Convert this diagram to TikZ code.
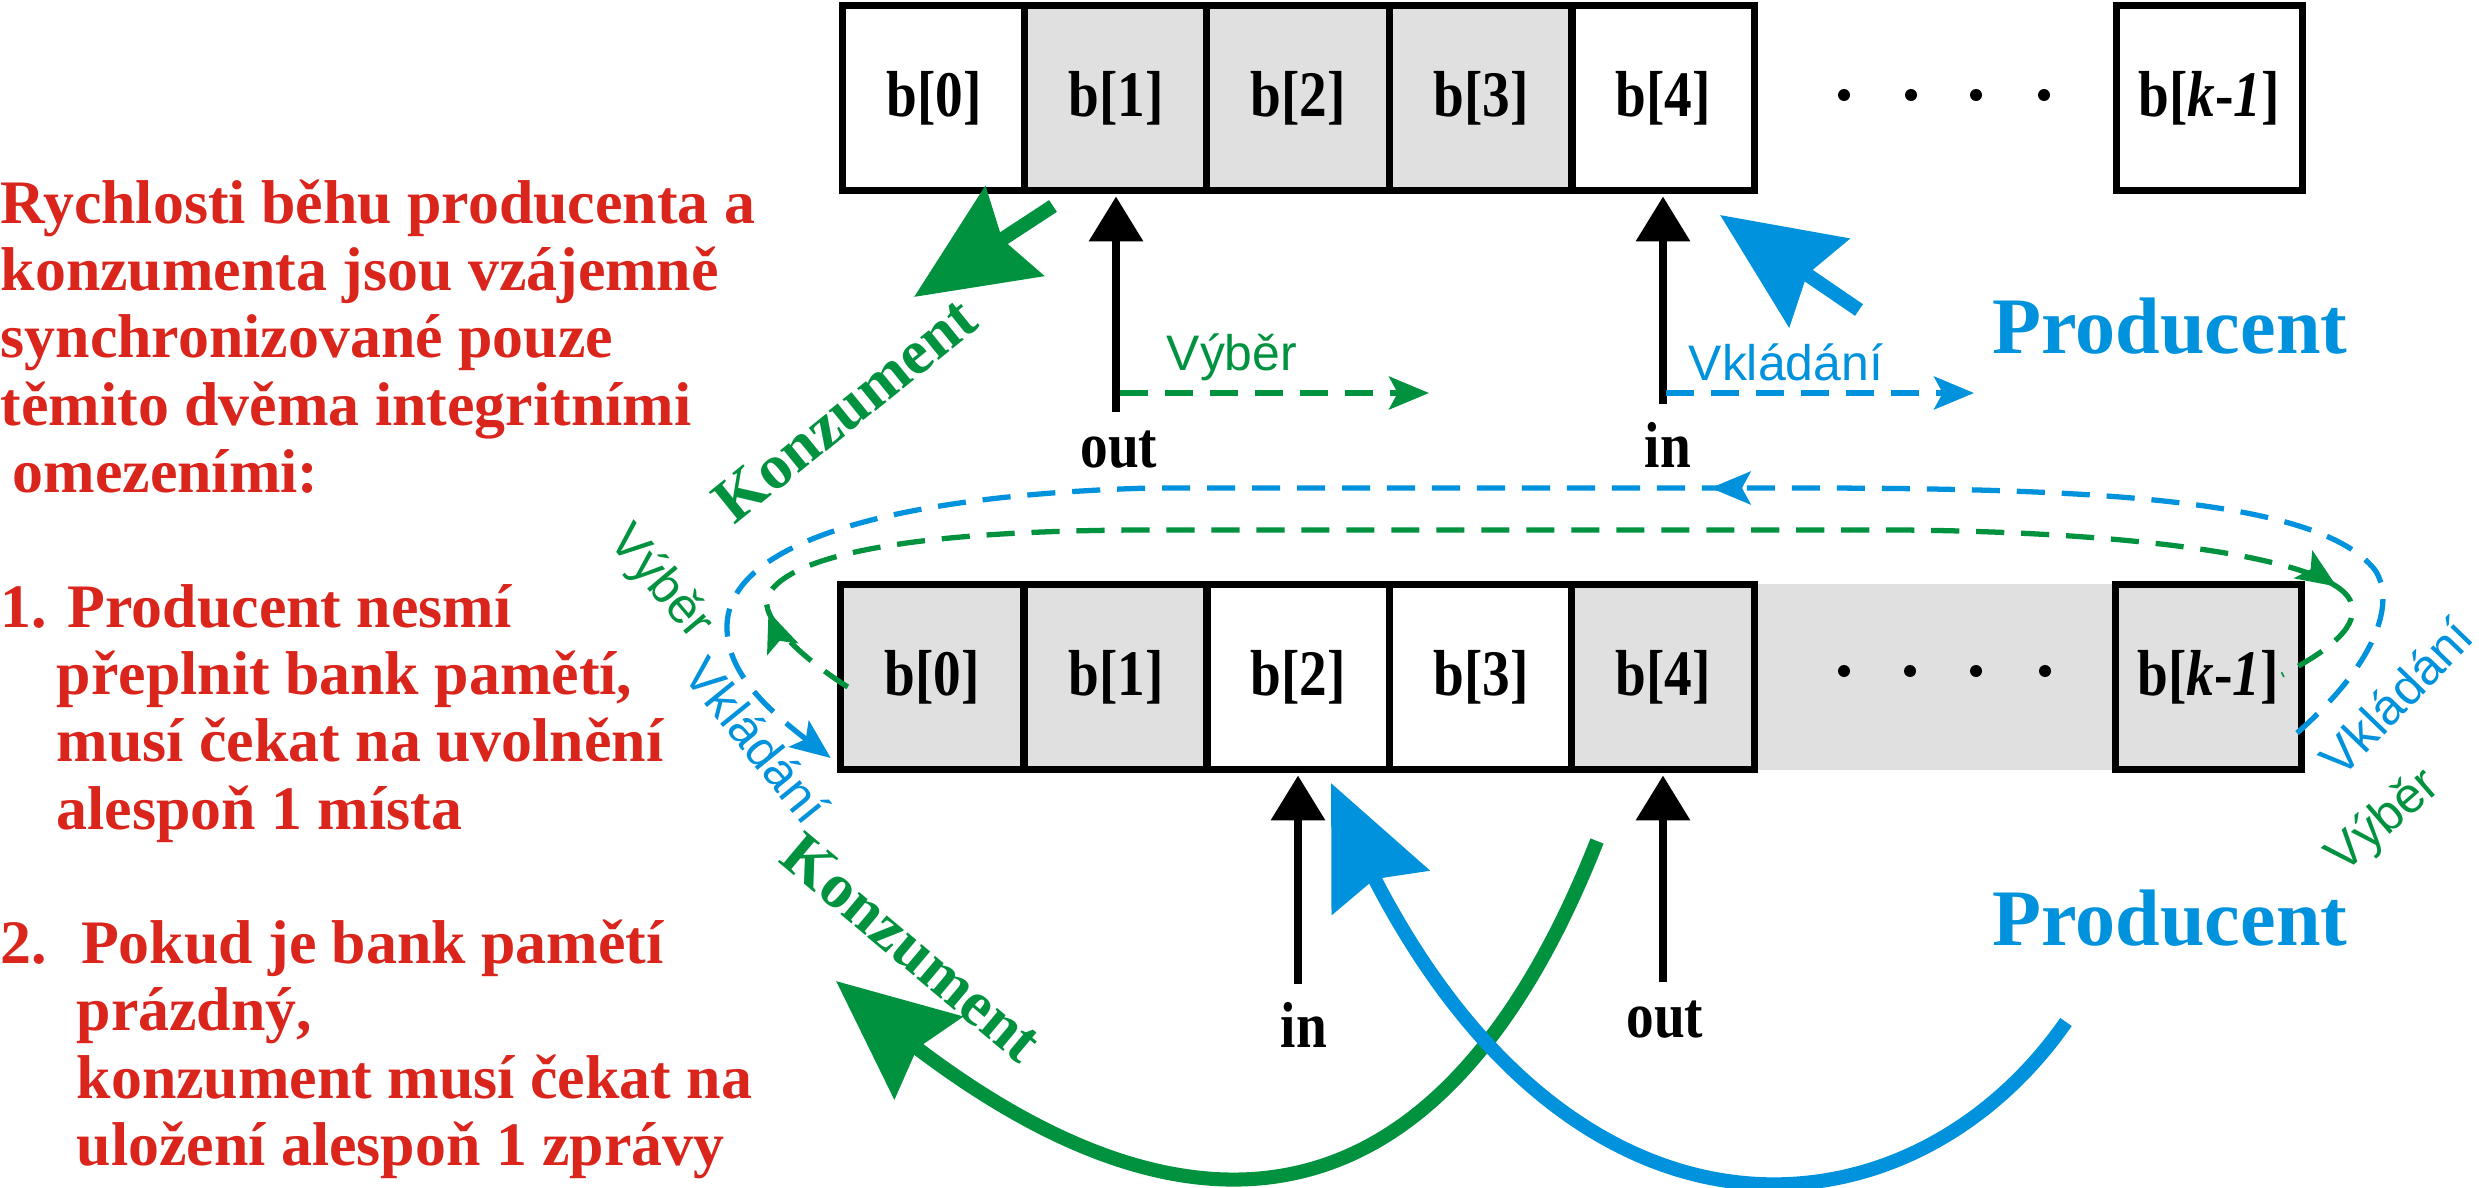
\documentclass[tikz,border=0pt]{standalone}
\usepackage{fontspec}
\setmainfont{Liberation Serif}
\newfontfamily\labelfont{Liberation Sans}
\newfontfamily\cellfont{Liberation Serif}[FakeStretch=0.85]
\usetikzlibrary{
    arrows.meta,
    bending,
    calc,
    decorations.markings
}
\definecolor{rulered}{RGB}{218,37,29}
\definecolor{konzgreen}{RGB}{0,146,63}
\definecolor{prodblue}{RGB}{0,146,221}
\tikzset{
    cell/.style={draw, line width=2pt, inner sep=0pt, outer sep=0pt,
        minimum width=18.25mm, minimum height=18.5mm,
        font=\cellfont\bfseries\fontsize{18.5}{20}\selectfont},
    filled/.style={cell, fill=black!12},
    ptr/.style={inner xsep=0pt, inner ysep=5pt,
        font=\cellfont\bfseries\fontsize{18.5}{20}\selectfont},
    ptrarrow/.style={line width=2.3pt, shorten >=0.6mm,
        -{Triangle[length=12.8pt, width=15pt]}},
    steptext/.style={font=\labelfont\fontsize{14.2}{16}\selectfont, inner sep=0pt},
    dashline/.style={line width=1.5pt, dash pattern=on 8pt off 4.8pt},
    smalltip/.style={-{Stealth[length=11.4pt, width=9.4pt, inset=2.5pt]}},
    bigarrow/.style={line width=4pt, -{Stealth[length=34pt, width=30pt, inset=4pt]}},
    role/.style={font=\bfseries\fontsize{18}{20}\selectfont, inner sep=0pt},
    rolebig/.style={font=\bfseries\fontsize{22.8}{24}\selectfont, inner sep=0pt}
}

\begin{document}
\begin{tikzpicture}[x=0.1mm, y=-0.1mm]
    \useasboundingbox (0,0) rectangle (2479,1188);

    % text on the left
    \node[anchor=north west, align=left, inner sep=0pt, text=rulered,
          font=\bfseries\fontsize{17.6}{19.15}\selectfont] (rules) at (0,179)
    {Rychlosti běhu producenta a\\
     konzumenta jsou vzájemně\\
     synchronizované pouze\\
     těmito dvěma integritními\\
     \hspace*{1.2mm}omezeními:\\[19.15pt]
     1. Producent nesmí\\
     \hspace*{5.6mm}přeplnit bank pamětí,\\
     \hspace*{5.6mm}musí čekat na uvolnění\\
     \hspace*{5.6mm}alespoň 1 místa\\[19.15pt]
     2.\hspace{3.4mm}Pokud je bank pamětí\\
     \hspace*{7.6mm}prázdný,\\
     \hspace*{7.6mm}konzument musí čekat na\\
     \hspace*{7.6mm}uložení alespoň 1 zprávy};

    % upper buffer
    \node[cell] (t0) at (934, 98) {b[0]};
    \node[filled] (t1) at (1116, 98) {b[1]};
    \node[filled] (t2) at (1298, 98) {b[2]};
    \node[filled] (t3) at (1481, 98) {b[3]};
    \node[cell] (t4) at (1663, 98) {b[4]};
    \node[cell, minimum width=18.6mm] (tk) at (2209, 98) {b[\textit{k}-\textit{1}]};
    \fill (1844,95) circle (0.6mm) (1911,95) circle (0.6mm)
          (1976,95) circle (0.6mm) (2044,95) circle (0.6mm);

    % lower buffer
    \fill[black!12] (1754,584) rectangle (2116,770);
    \node[filled] (l0) at (932, 677) {b[0]};
    \node[filled] (l1) at (1116, 677) {b[1]};
    \node[cell] (l2) at (1298, 677) {b[2]};
    \node[cell] (l3) at (1481, 677) {b[3]};
    \node[filled] (l4) at (1663, 677) {b[4]};
    \node[filled, minimum width=18.6mm] (lk) at (2208, 677) {b[\textit{k}-\textit{1}]};
    \fill (1844,671) circle (0.6mm) (1910,671) circle (0.6mm)
          (1976,671) circle (0.6mm) (2045,671) circle (0.6mm);

    % pointers
    \node[ptr, anchor=base] (outT) at (1119,467) {out};
    \node[ptr, anchor=base] (inT) at (1668,467) {in};
    \node[ptr, anchor=base] (inB) at (1304,1047) {in};
    \node[ptr, anchor=base] (outB) at (1665,1037) {out};
    \draw[ptrarrow] (t1.south |- outT.north) -- (t1.south);
    \draw[ptrarrow] (t4.south |- inT.north) -- (t4.south);
    \draw[ptrarrow] (l2.south |- inB.north) -- (l2.south);
    \draw[ptrarrow] (l4.south |- outB.north) -- (l4.south);

    % steps of the pointers
    \coordinate (vybS) at (1120,393);
    \coordinate (vybE) at (1429,393);
    \coordinate (vklS) at (1666,393);
    \coordinate (vklE) at (1974,393);
    \draw[dashline, konzgreen, smalltip] (vybS) -- (vybE);
    \draw[dashline, prodblue, smalltip] (vklS) -- (vklE);
    \node[steptext, konzgreen, anchor=base west] (vybT) at (1166,370) {Výběr};
    \node[steptext, prodblue, anchor=base west] (vklT) at (1688,380) {Vkládání};

    % wrap round
    \coordinate (vkS) at ($(lk.east)+(-4,56)$);
    \coordinate (vkE) at ($(l0.west)+(-10,81)$);
    \coordinate (vbS) at ($(l0.west)+(7,10)$);
    \coordinate (vbE) at ($(lk.east)+(-19,-2)$);
    \draw[dashline, prodblue, smalltip, postaction={decorate},
          decoration={markings, mark=at position 0.42 with
            {\arrow{Stealth[length=11.4pt, width=9.4pt, inset=2.5pt]}}}]
        (vkS) .. controls (2380,660) and (2395,600) .. (2375,570)
              .. controls (2320,500) and (2100,488) .. (1800,488)
              -- (1150,488)
              .. controls (900,495) and (727,540) .. (727,627)
              .. controls (727,680) and (780,720) .. (vkE);
    \draw[dashline, konzgreen, postaction={decorate},
          decoration={markings,
            mark=at position 0.06 with
              {\arrow{Stealth[length=11.4pt, width=9.4pt, inset=2.5pt]}},
            mark=at position 0.93 with
              {\arrow{Stealth[length=11.4pt, width=9.4pt, inset=2.5pt]}}}]
        (vbS) .. controls (790,650) and (755,610) .. (770,592)
              .. controls (800,548) and (950,530) .. (1150,530)
              -- (1900,530)
              .. controls (2150,532) and (2330,560) .. (2350,600)
              .. controls (2362,625) and (2330,650) .. (vbE);
    \node[steptext, konzgreen, rotate=-50] (vybL) at (660,583) {Výběr};
    \node[steptext, prodblue, rotate=-51] (vklL) at (757,740) {Vkládání};
    \node[steptext, prodblue, rotate=46] (vklR) at (2396,697) {Vkládání};
    \node[steptext, konzgreen, rotate=41] (vybR) at (2384,822) {Výběr};

    % consumer and producer
    \node[role, konzgreen, rotate=39] (konzT) at (845,410) {Konzument};
    \node[role, konzgreen, rotate=-40] (konzB) at (912,948) {Konzument};
    \node[rolebig, prodblue, anchor=base] (prodT) at (2170,353) {Producent};
    \node[rolebig, prodblue, anchor=base] (prodB) at (2170,945) {Producent};

    \coordinate (kzTail) at (1053,206);
    \coordinate (kzTip) at (914,297);
    \coordinate (prTail) at (1859,310);
    \coordinate (prTip) at (1720,215);
    \coordinate (kzbTail) at (1597,841);
    \coordinate (kzbTip) at (836,981);
    \coordinate (prbTail) at (2066,1022);
    \coordinate (prbTip) at (1331,783);
    \draw[bigarrow, konzgreen] (kzTail) -- (kzTip);
    \draw[bigarrow, prodblue] (prTail) -- (prTip);
    \draw[bigarrow, konzgreen] (kzbTail) .. controls (1420,1290) and (1130,1245) .. (kzbTip);
    \draw[bigarrow, prodblue] (prbTail) .. controls (1900,1260) and (1530,1280) .. (prbTip);
\end{tikzpicture}
\end{document}
